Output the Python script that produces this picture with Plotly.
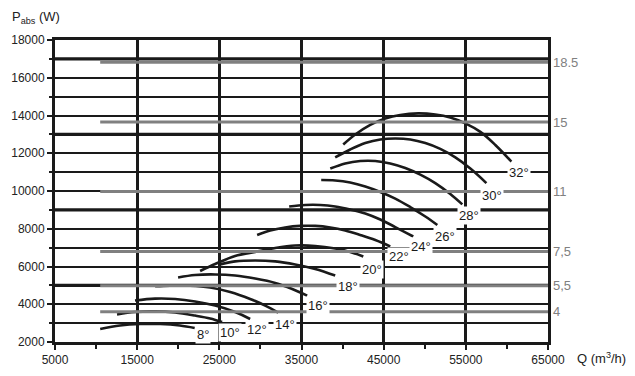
import plotly.graph_objects as go

# ---------------- data ----------------
curve_names = ["8°", "10°", "12°", "14°", "16°", "18°", "20°", "22°", "24°", "26°", "28°", "30°", "32°"]

Q_8 = [10500, 12900, 15400, 17800, 20200, 22000]
P_8 = [2690, 2870, 2950, 2950, 2870, 2740]

Q_10 = [12550, 14740, 17180, 19620, 22050, 23880, 25340]
P_10 = [3460, 3590, 3620, 3560, 3400, 3250, 3060]

Q_12 = [14740, 17180, 19620, 22050, 24490, 26920, 28750]
P_12 = [4200, 4300, 4280, 4150, 3930, 3590, 3220]

Q_14 = [17180, 19010, 21440, 23880, 26320, 28750, 30580, 32160]
P_14 = [4950, 4985, 4985, 4890, 4650, 4280, 3930, 3560]

Q_16 = [19980, 22050, 24490, 26920, 29360, 31800, 33870, 35690]
P_16 = [5420, 5550, 5580, 5520, 5360, 5130, 4810, 4460]

Q_18 = [24850, 26920, 29360, 31800, 34230, 36670, 39100]
P_18 = [6080, 6270, 6320, 6270, 6110, 5870, 5520]

Q_20 = [22660, 24490, 26920, 29360, 31800, 34230, 36670, 39100, 40930, 42520]
P_20 = [5760, 6130, 6560, 6770, 6980, 7110, 7090, 6950, 6770, 6530]

Q_22 = [29600, 31190, 33010, 34840, 36670, 38500, 40320, 42150, 43980, 45800]
P_22 = [7670, 7910, 8070, 8150, 8150, 8070, 7910, 7670, 7400, 7060]

Q_24 = [33500, 35450, 37280, 39100, 40930, 42760, 44590, 46410, 48600]
P_24 = [9180, 9260, 9260, 9180, 9020, 8810, 8490, 8090, 7590]

Q_26 = [37400, 39100, 40930, 42760, 44590, 46410, 48240, 50070, 51530]
P_26 = [10580, 10560, 10450, 10240, 9950, 9600, 9150, 8650, 8200]

Q_28 = [38500, 40320, 42150, 43980, 45800, 47630, 49460, 51280, 53110, 54570]
P_28 = [11190, 11460, 11590, 11590, 11460, 11220, 10870, 10420, 9840, 9290]

Q_30 = [39100, 40930, 42760, 44590, 46410, 48240, 50070, 51890, 53720, 55550, 57500]
P_30 = [11780, 12200, 12540, 12730, 12780, 12730, 12540, 12230, 11780, 11190, 10420]

Q_32 = [40080, 41540, 43370, 45190, 47020, 49210, 51280, 53110, 54940, 56770, 58590, 60540]
P_32 = [12460, 12990, 13500, 13840, 14030, 14110, 14050, 13890, 13580, 13130, 12440, 11560]

# label anchor points of the curve names (data units)
label_Q = [23030, 26320, 29570, 33010, 37030, 40600, 43570, 46810, 49540, 52500, 55430, 58190, 61430]
label_P = [2420, 2480, 2670, 2950, 3920, 4930, 5850, 6520, 7050, 7580, 8680, 9740, 10970]

# motor power lines (kW) and their absorbed power (W)
motor_kw = ["18.5", "15", "11", "7,5", "5,5", "4"]
motor_P = [16820, 13650, 9980, 6790, 4980, 3600]
motor_Q_start = 10500
motor_Q_end = 65000

x_ticks = [5000, 15000, 25000, 35000, 45000, 55000, 65000]
y_ticks = [2000, 4000, 6000, 8000, 10000, 12000, 14000, 16000, 18000]
emph_grid_P = [5000, 9000, 13000, 17000]

curves = [(Q_8, P_8), (Q_10, P_10), (Q_12, P_12), (Q_14, P_14), (Q_16, P_16),
          (Q_18, P_18), (Q_20, P_20), (Q_22, P_22), (Q_24, P_24), (Q_26, P_26),
          (Q_28, P_28), (Q_30, P_30), (Q_32, P_32)]

# ---------------- figure ----------------
FONT = "Liberation Sans, Arial, sans-serif"
BLACK = "#1a1a1a"
GRAY = "#808080"

fig = go.Figure()

for name, (q, p) in zip(curve_names, curves):
    fig.add_trace(go.Scatter(x=q, y=p, mode="lines", name=name,
                             line=dict(color=BLACK, width=2.6, shape="spline", smoothing=1.0),
                             hoverinfo="skip", showlegend=False))

for kw, p in zip(motor_kw, motor_P):
    fig.add_trace(go.Scatter(x=[motor_Q_start, motor_Q_end], y=[p, p], mode="lines",
                             line=dict(color=GRAY, width=3), hoverinfo="skip", showlegend=False))
    fig.add_annotation(x=motor_Q_end, y=p, xref="x", yref="y", text=kw, showarrow=False,
                       xanchor="left", yanchor="middle", xshift=3,
                       font=dict(family=FONT, size=13, color=GRAY))

for gp in emph_grid_P:
    fig.add_shape(type="line", xref="x", yref="y", x0=x_ticks[0], x1=x_ticks[-1], y0=gp, y1=gp,
                  line=dict(color=BLACK, width=3.4), layer="between")

for name, lq, lp in zip(curve_names, label_Q, label_P):
    fig.add_annotation(x=lq, y=lp, xref="x", yref="y", text=name, showarrow=False,
                       xanchor="center", yanchor="middle", bgcolor="white", borderpad=1,
                       font=dict(family=FONT, size=13, color=BLACK))

fig.add_annotation(xref="paper", yref="paper", x=-0.092, y=1.073, xanchor="left", yanchor="middle",
                   text="P<sub>abs</sub> (W)", showarrow=False,
                   font=dict(family=FONT, size=13, color="#222"))
fig.add_annotation(xref="paper", yref="paper", x=1.055, y=-0.053, xanchor="left", yanchor="middle",
                   text="Q (m<sup>3</sup>/h)", showarrow=False,
                   font=dict(family=FONT, size=13, color="#222"))

fig.update_xaxes(range=[x_ticks[0], x_ticks[-1]], tickvals=x_ticks,
                 ticktext=[str(v) for v in x_ticks],
                 showgrid=True, gridcolor=BLACK, gridwidth=3,
                 showline=True, linecolor=BLACK, linewidth=3, mirror=True,
                 ticks="outside", ticklen=5, tickwidth=2, tickcolor=BLACK,
                 minor=dict(dtick=5000, tick0=0, ticks="outside", ticklen=4, tickwidth=2,
                            tickcolor=BLACK, showgrid=False),
                 tickfont=dict(family=FONT, size=12, color="#222"), zeroline=False)
fig.update_yaxes(range=[y_ticks[0], y_ticks[-1]], tickvals=y_ticks,
                 ticktext=[str(v) for v in y_ticks],
                 showgrid=True, gridcolor=BLACK, gridwidth=2,
                 showline=True, linecolor=BLACK, linewidth=3, mirror=True,
                 ticks="outside", ticklen=5, tickwidth=2, tickcolor=BLACK,
                 minor=dict(dtick=1000, tick0=0, ticks="outside", ticklen=3, tickwidth=2,
                            tickcolor=BLACK, showgrid=True, gridcolor=BLACK, gridwidth=2),
                 tickfont=dict(family=FONT, size=12, color="#222"), zeroline=False)

# the page body adds an 8 px offset, so the figure is sized/margined to compensate
fig.update_layout(width=627, height=368,
                  margin=dict(l=47, r=87, t=32, b=34, autoexpand=False),
                  paper_bgcolor="white", plot_bgcolor="white",
                  showlegend=False)

fig.write_html("out.html")
